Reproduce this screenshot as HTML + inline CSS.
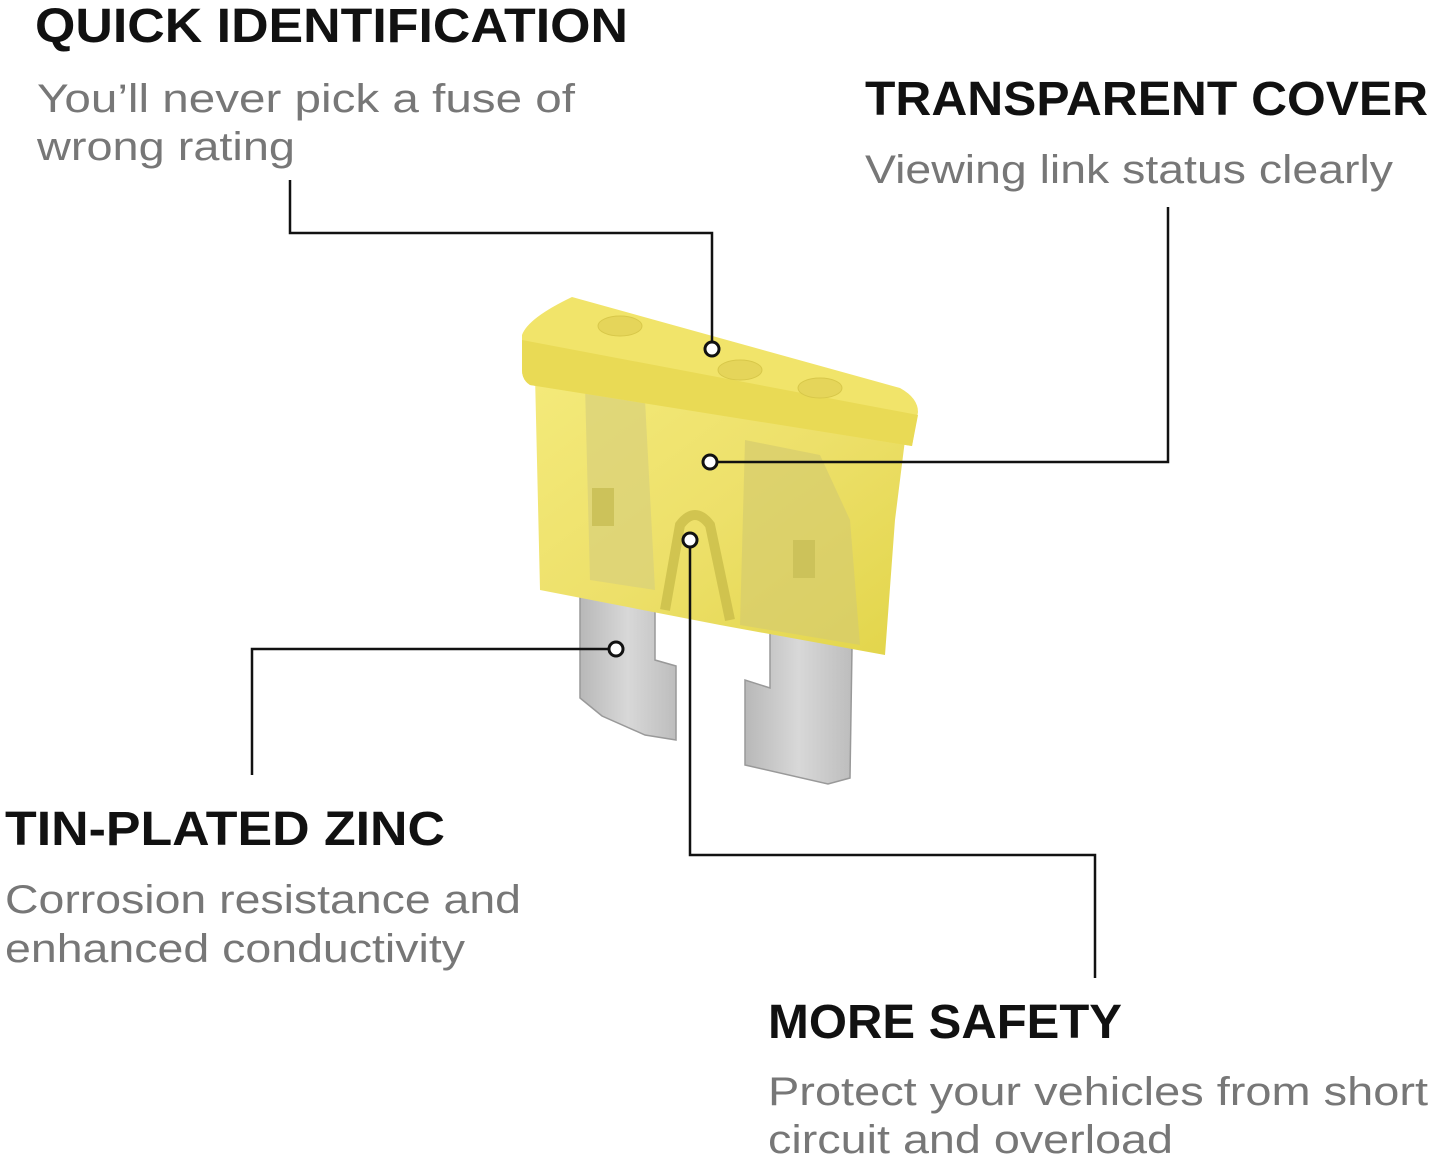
<!DOCTYPE html>
<html><head><meta charset="utf-8"><style>html,body{margin:0;padding:0;background:#fff}svg{display:block}</style></head>
<body>
<svg width="1437" height="1164" viewBox="0 0 1437 1164" xmlns="http://www.w3.org/2000/svg">
<defs>
<linearGradient id="y" x1="0" y1="0" x2="1" y2="1"><stop offset="0" stop-color="#f4ea7a"/><stop offset="0.5" stop-color="#ede06a"/><stop offset="1" stop-color="#e2d54a"/></linearGradient>
<linearGradient id="m" x1="0" y1="0" x2="1" y2="0"><stop offset="0" stop-color="#b8b8b8"/><stop offset="0.5" stop-color="#d8d8d8"/><stop offset="1" stop-color="#bdbdbd"/></linearGradient>
</defs>
<polygon points="580,570 655,582 655,660 676,666 676,740 645,735 602,716 580,698" fill="url(#m)" stroke="#999" stroke-width="1.5"/>
<polygon points="770,630 852,648 850,778 828,784 745,765 745,680 770,688" fill="url(#m)" stroke="#999" stroke-width="1.5"/>
<polygon points="535,375 905,440 895,520 885,655 720,625 540,590" fill="url(#y)"/>
<path d="M585,385 L645,400 L655,590 L590,580 Z" fill="#d9d07a" opacity="0.7"/>
<path d="M745,440 L820,455 L850,520 L860,645 L740,625 Z" fill="#d6cc6e" opacity="0.7"/>
<path d="M665,610 L680,525 Q695,505 710,525 L730,620" fill="none" stroke="#c9bd4a" stroke-width="10" opacity="0.8"/>
<rect x="592" y="488" width="22" height="38" fill="#ccc25a"/>
<rect x="793" y="540" width="22" height="38" fill="#ccc25a"/>
<path d="M522,335 Q528,318 572,297 L900,388 Q918,398 918,412 L912,446 L530,385 Q522,380 522,370 Z" fill="#f1e46a"/>
<path d="M522,340 L918,415 L912,446 L530,385 Q522,380 522,370 Z" fill="#e9da55"/>
<ellipse cx="620" cy="326" rx="22" ry="10" fill="#e5d55a" stroke="#d8c84a"/>
<ellipse cx="740" cy="370" rx="22" ry="10" fill="#e5d55a" stroke="#d8c84a"/>
<ellipse cx="820" cy="388" rx="22" ry="10" fill="#e5d55a" stroke="#d8c84a"/>
<g fill="none" stroke="#111" stroke-width="2.5">
<polyline points="290,180 290,233 712,233 712,342"/>
<polyline points="717,462 1168,462 1168,207"/>
<polyline points="690,547 690,855 1095,855 1095,978"/>
<polyline points="609,649 252,649 252,775"/>
</g>
<g fill="#fff" stroke="#111" stroke-width="3">
<circle cx="712" cy="349" r="7"/><circle cx="710" cy="462" r="7"/><circle cx="690" cy="540" r="7"/><circle cx="616" cy="649" r="7"/>
</g>
<g font-family="Liberation Sans, sans-serif">
<g font-weight="bold" fill="#111" font-size="48">
<text x="35" y="42" textLength="593" lengthAdjust="spacingAndGlyphs">QUICK IDENTIFICATION</text>
<text x="865" y="115" textLength="563" lengthAdjust="spacingAndGlyphs">TRANSPARENT COVER</text>
<text x="5" y="845" textLength="440" lengthAdjust="spacingAndGlyphs">TIN-PLATED ZINC</text>
<text x="768" y="1038" textLength="354" lengthAdjust="spacingAndGlyphs">MORE SAFETY</text>
</g>
<g fill="#777" font-size="40">
<text x="37" y="112" textLength="538" lengthAdjust="spacingAndGlyphs">You’ll never pick a fuse of</text>
<text x="37" y="160" textLength="258" lengthAdjust="spacingAndGlyphs">wrong rating</text>
<text x="865" y="183" textLength="528" lengthAdjust="spacingAndGlyphs">Viewing link status clearly</text>
<text x="5" y="913" textLength="516" lengthAdjust="spacingAndGlyphs">Corrosion resistance and</text>
<text x="5" y="962" textLength="460" lengthAdjust="spacingAndGlyphs">enhanced conductivity</text>
<text x="768" y="1105" textLength="660" lengthAdjust="spacingAndGlyphs">Protect your vehicles from short</text>
<text x="768" y="1153" textLength="405" lengthAdjust="spacingAndGlyphs">circuit and overload</text>
</g>
</g>
</svg>
</body></html>
